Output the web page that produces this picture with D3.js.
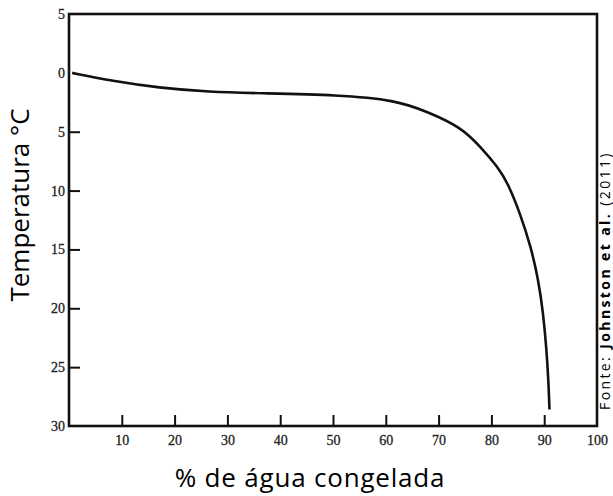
<!DOCTYPE html>
<html>
<head>
<meta charset="utf-8">
<script src="https://cdn.jsdelivr.net/npm/d3@7"></script>
<style>
    body { margin: 0; background: #fff; }
    svg { display: block; }
</style>
</head>
<body>
<div id="chart"></div>
<script>
// values
const frozenPct = [0.6, 7.7, 17.1, 26.6, 36.0, 51.0, 61.8, 68.0, 74.2, 78.0, 81.2, 83.1, 85.4, 87.5, 88.9, 89.8, 90.4, 90.8, 91.0];
const temperature = [0, -0.66, -1.28, -1.62, -1.73, -1.88, -2.30, -3.32, -4.60, -6.30, -8.0, -9.35, -11.9, -14.8, -17.6, -20.4, -23.3, -26.1, -28.6];

const tempTicks = [5, 0, -5, -10, -15, -20, -25, -30];
const tempTickLabels = ["5", "0", "5", "10", "15", "20", "25", "30"];
const pctTicks = [10, 20, 30, 40, 50, 60, 70, 80, 90, 100];

function drawChart() {
    const width = 613;
    const height = 496;
    const margin = { top: 14, right: 16, bottom: 70, left: 69 };
    const innerW = width - margin.left - margin.right;
    const innerH = height - margin.top - margin.bottom;

    const svg = d3.select("#chart")
        .append("svg")
        .attr("width", width)
        .attr("height", height);

    const g = svg.append("g")
        .attr("transform", "translate(" + margin.left + "," + margin.top + ")");

    const xScale = d3.scaleLinear().domain([0, 100]).range([0, innerW]);
    const yScale = d3.scaleLinear().domain([5, -30]).range([0, innerH]);

    // tick labels (no tick lines)
    const yLabels = g.append("g")
        .call(d3.axisLeft(yScale)
            .tickValues(tempTicks)
            .tickSize(0)
            .tickPadding(4)
            .tickFormat((d, i) => tempTickLabels[i]));
    const xLabels = g.append("g")
        .attr("transform", "translate(0," + innerH + ")")
        .call(d3.axisBottom(xScale)
            .tickValues(pctTicks)
            .tickSize(0)
            .tickPadding(9)
            .tickFormat(d3.format("d")));
    [yLabels, xLabels].forEach(a => {
        a.select(".domain").remove();
        a.selectAll("text")
            .style("font-family", "'Liberation Serif', serif")
            .style("font-size", "14px")
            .attr("fill", "#222")
            .attr("stroke", "#222")
            .attr("stroke-width", 0.3);
    });

    // inner tick marks
    g.append("g")
        .call(d3.axisLeft(yScale).tickValues(tempTicks.slice(2, 7)).tickSize(-11).tickFormat(""))
        .call(a => a.select(".domain").remove())
        .selectAll("line").attr("stroke", "#111").attr("stroke-width", 2);
    g.append("g")
        .attr("transform", "translate(0," + innerH + ")")
        .call(d3.axisBottom(xScale).tickValues(pctTicks.slice(0, 9)).tickSize(-11).tickFormat(""))
        .call(a => a.select(".domain").remove())
        .selectAll("line").attr("stroke", "#111").attr("stroke-width", 2);

    // frame
    g.append("rect")
        .attr("x", 0)
        .attr("y", 0)
        .attr("width", innerW)
        .attr("height", innerH)
        .attr("fill", "none")
        .attr("stroke", "#111")
        .attr("stroke-width", 2.6);

    // curve
    const points = frozenPct.map((p, i) => ({ x: p, y: temperature[i] }));
    const line = d3.line()
        .x(d => xScale(d.x))
        .y(d => yScale(d.y))
        .curve(d3.curveBasis);
    g.append("path")
        .datum(points)
        .attr("d", line)
        .attr("fill", "none")
        .attr("stroke", "#111")
        .attr("stroke-width", 2.6);

    // axis titles
    svg.append("text")
        .attr("x", 310)
        .attr("y", 487)
        .attr("text-anchor", "middle")
        .style("font-family", "'Open Sans', sans-serif")
        .style("font-size", "26px")
        .style("letter-spacing", "0.8px")
        .text("% de água congelada");

    svg.append("text")
        .attr("transform", "translate(29,205) rotate(-90)")
        .attr("text-anchor", "middle")
        .style("font-family", "'Open Sans', sans-serif")
        .style("font-size", "26px")
        .text("Temperatura °C");

    // source note along the right edge
    const src = svg.append("text")
        .attr("transform", "translate(609.5,410) rotate(-90)")
        .attr("text-anchor", "start")
        .style("font-family", "'Open Sans', sans-serif")
        .style("font-size", "14px")
        .style("letter-spacing", "2.4px");
    src.append("tspan").text("Fonte: ");
    src.append("tspan").style("font-weight", "bold").text("Johnston et al.");
    src.append("tspan").text(" (2011)");
}

drawChart();
</script>
</body>
</html>
